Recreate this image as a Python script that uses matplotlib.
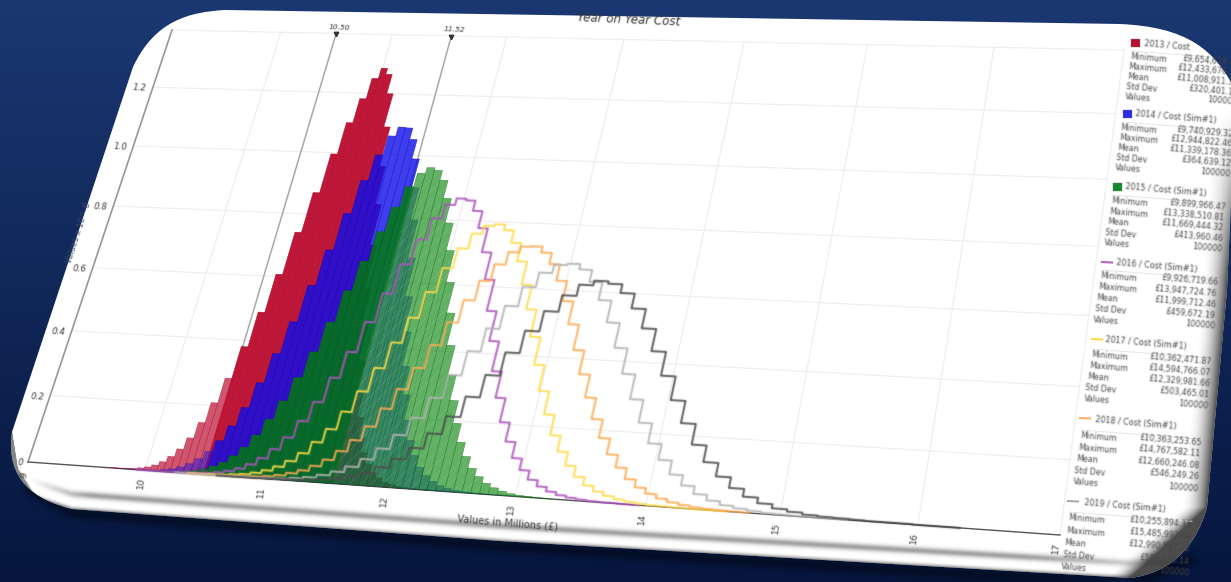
import matplotlib

matplotlib.use("agg")
import matplotlib.pyplot as plt
import matplotlib.transforms as mtransforms
from matplotlib.patches import PathPatch, Rectangle
from matplotlib.path import Path
import numpy as np

# Histogram ranges in GBP millions (min, max of each simulation), 50 bins each
ranges = {
    "2013": (9.654, 12.433),
    "2014": (9.741, 12.945),
    "2015": (9.900, 13.339),
    "2016": (9.927, 13.948),
    "2017": (10.362, 14.595),
    "2018": (10.363, 14.768),
    "2019": (10.256, 15.486),
    "2020": (10.600, 16.300),
}

red_vals = [0, .001, .001, .002, .003, .006, .010, .017, .028, .045, .068, .102, .149, .209, .284, .381, .488,
            .607, .741, .869, .996, 1.100, 1.181, 1.250, 1.285, 1.265, 1.200, 1.090, .962, .839, .711, .578,
            .461, .358, .265, .194, .135, .093, .062, .039, .025, .015, .009, .005, .003, .002, .001, .001, 0, 0]
blue_vals = [0, 0, 0, .001, .002, .003, .006, .010, .017, .028, .044, .067, .100, .145, .201, .276, .366,
             .464, .578, .690, .807, .914, .998, 1.061, 1.091, 1.089, 1.052, .989, .897, .795, .677, .558,
             .452, .350, .267, .194, .137, .095, .063, .041, .026, .015, .009, .005, .003, .002, .001, .001, 0, 0]
green_vals = [0, 0, .001, .001, .002, .003, .006, .010, .016, .026, .039, .059, .086, .123, .171, .227, .299,
              .377, .469, .567, .660, .754, .833, .900, .944, .963, .955, .924, .867, .790, .705, .608,
              .515, .419, .332, .259, .194, .141, .102, .070, .048, .031, .020, .012, .007, .004, .003, .001, .001, 0]
purple_vals = [0, 0, 0, 0, .001, .002, .003, .005, .009, .015, .024, .038, .058, .086, .122, .172, .230,
               .304, .383, .475, .564, .656, .735, .803, .847, .868, .863, .831, .778, .704, .621, .527,
               .438, .350, .274, .205, .151, .106, .074, .049, .032, .020, .012, .007, .004, .002, .001, .001, 0, 0]
yellow_vals = [.001, .001, .002, .003, .006, .009, .015, .024, .037, .055, .080, .114, .154, .207, .269, .340,
               .418, .495, .575, .650, .713, .760, .786, .792, .775, .737, .681, .611, .538, .457, .376, .301,
               .235, .177, .133, .095, .066, .044, .029, .019, .012, .007, .004, .002, .002, .001, .001, 0, 0, 0]
orange_vals = [0, 0, .001, .001, .002, .003, .005, .008, .013, .021, .031, .046, .066, .093, .127, .169, .223,
               .282, .347, .417, .487, .556, .617, .669, .708, .727, .729, .711, .677, .628, .568, .500,
               .425, .356, .290, .230, .178, .134, .099, .069, .048, .033, .022, .014, .009, .005, .003, .002, .001, .001]
gray_vals = [0, 0, 0, 0, 0, .001, .001, .002, .004, .008, .013, .022, .034, .051, .075, .108, .150,
             .202, .263, .332, .405, .475, .545, .605, .650, .676, .681, .665, .629, .576, .511, .438,
             .364, .293, .228, .172, .128, .090, .062, .041, .026, .016, .010, .006, .003, .002, .001, .001, 0, 0]
black_vals = [0, 0, 0, .001, .002, .003, .005, .009, .014, .023, .036, .055, .082, .116, .160, .212, .272,
              .338, .407, .474, .535, .585, .619, .633, .626, .600, .556, .499, .434, .365, .297, .234,
              .176, .130, .093, .064, .043, .028, .017, .011, .006, .004, .003, .002, .001, .001, .001, 0, 0, 0]

delimiters = [10.50, 11.52]
x_ticks = [9, 10, 11, 12, 13, 14, 15, 16, 17]
y_ticks = [0.2, 0.4, 0.6, 0.8, 1.0, 1.2]

legend_titles = ["2013 / Cost", "2014 / Cost (Sim#1)", "2015 / Cost (Sim#1)", "2016 / Cost (Sim#1)",
                 "2017 / Cost (Sim#1)", "2018 / Cost (Sim#1)", "2019 / Cost (Sim#1)"]
row_names = ["Minimum", "Maximum", "Mean", "Std Dev", "Values"]
legend_stats = [
    ["£9,654,618.41", "£12,433,676.20", "£11,008,911.35", "£320,401.18", "100000"],
    ["£9,740,929.32", "£12,944,822.46", "£11,339,178.36", "£364,639.12", "100000"],
    ["£9,899,966.47", "£13,338,510.81", "£11,669,444.32", "£413,960.46", "100000"],
    ["£9,926,719.66", "£13,947,724.76", "£11,999,712.46", "£459,672.19", "100000"],
    ["£10,362,471.87", "£14,594,766.07", "£12,329,981.66", "£503,465.01", "100000"],
    ["£10,363,253.65", "£14,767,582.11", "£12,660,246.08", "£546,249.26", "100000"],
    ["£10,255,894.31", "£15,485,993.40", "£12,990,517.22", "£585,330.14", "100000"],
]

# pixel layout of the tilted sheet
CORNERS = [(28, 462), (1060, 535), (172, 30), (1124, 50)]
X_RANGE = (9.0, 17.0)
Y_RANGE = (0.0, 1.4)


def homography(corners):
    """Solve the unit square -> picture quad mapping."""
    (x0, y0), (x1, y1), (x2, y2), (x3, y3) = corners
    sx, sy = x0 - x1 + x3 - x2, y0 - y1 + y3 - y2
    a = np.array([[x1 - x3, x2 - x3], [y1 - y3, y2 - y3]], dtype=float)
    g, h = np.linalg.solve(a, [sx, sy])
    return np.array([
        [x1 * (1 + g) - x0, x2 * (1 + h) - x0, x0],
        [y1 * (1 + g) - y0, y2 * (1 + h) - y0, y0],
        [g, h, 1.0],
    ])


H = homography(CORNERS)


class SheetTransform(mtransforms.Transform):
    """Chart units to picture pixels, through the perspective of the sheet."""
    input_dims = 2
    output_dims = 2
    is_separable = False
    has_inverse = False

    def transform_non_affine(self, values):
        values = np.asarray(values, dtype=float)
        u = (values[:, 0] - X_RANGE[0]) / (X_RANGE[1] - X_RANGE[0])
        v = (values[:, 1] - Y_RANGE[0]) / (Y_RANGE[1] - Y_RANGE[0])
        w = H[2, 0] * u + H[2, 1] * v + H[2, 2]
        px = (H[0, 0] * u + H[0, 1] * v + H[0, 2]) / w
        py = (H[1, 0] * u + H[1, 1] * v + H[1, 2]) / w
        return np.column_stack([px, py])


sheet = SheetTransform()


def proj(x, y):
    return sheet.transform_non_affine(np.array([[x, y]]))[0]


def soft(sigma):
    """agg filter: gaussian blur, the reference is an upscaled screenshot."""
    r = int(np.ceil(sigma * 3))
    k = np.exp(-0.5 * (np.arange(-r, r + 1) / sigma) ** 2)
    k /= k.sum()

    def run(img, dpi):
        img = np.pad(img, ((r, r), (r, r), (0, 0)))
        img[..., :3] *= img[..., 3:]
        for axis in (0, 1):
            img = sum(wt * np.roll(img, i - r, axis=axis) for i, wt in enumerate(k))
        img[..., :3] /= np.maximum(img[..., 3:], 1e-4)
        return np.clip(img, 0, 1), -r, -r

    return run


fig = plt.figure(figsize=(12.31, 5.82), dpi=100)
ax = fig.add_axes([0, 0, 1, 1])
ax.set_axis_off()
ax.set_autoscale_on(False)
ax.set_xlim(0, 1231)
ax.set_ylim(582, 0)
chart = sheet + ax.transData

# background
top, bottom = np.array([27, 56, 114]) / 255, np.array([6, 22, 62]) / 255
t = np.linspace(0, 1, 256)[:, None, None]
ax.imshow(top * (1 - t) + bottom * t, extent=(0, 1231, 582, 0), aspect="auto", zorder=0)

# white sheet
verts = [(225, 10), (1120, 24), (1185, 27), (1215, 48), (1236, 92), (1227, 290), (1207, 507),
         (1195, 552), (1165, 574), (1130, 578), (500, 541), (72, 509), (35, 500), (5, 480), (12, 432),
         (133, 67), (155, 20), (190, 12), (225, 10), (225, 10)]
codes = [Path.MOVETO, Path.LINETO, Path.CURVE4, Path.CURVE4, Path.CURVE4, Path.LINETO, Path.LINETO,
         Path.CURVE4, Path.CURVE4, Path.CURVE4, Path.LINETO, Path.LINETO, Path.CURVE4, Path.CURVE4, Path.CURVE4,
         Path.LINETO, Path.CURVE4, Path.CURVE4, Path.CURVE4, Path.CLOSEPOLY]
panel = PathPatch(Path(verts, codes), facecolor="white", edgecolor="none", zorder=2)
ax.add_patch(panel)

# drop shadow on the background, under the bottom edge
shadow, = ax.plot([30, 72, 500, 1130, 1190], [490, 513, 546, 584, 560], color="black", alpha=0.45, lw=7, zorder=1)
shadow.set_agg_filter(soft(3))

# bevel: darkening toward the bottom and right edges of the sheet
gx, gy = np.meshgrid(np.arange(1231) + 0.5, np.arange(582) + 0.5)
d_right = np.interp(gy, [92, 290, 507, 578], [1236, 1227, 1207, 1130]) - gx
d_bottom = np.interp(gx, [12, 18, 35, 72, 500, 1130], [432, 470, 497, 509, 541, 578]) - gy
a_right = 0.8 * np.clip(1 - d_right / 26, 0, 1) ** 2 * np.clip((gy - 110) / 170, 0, 1)
a_edge = 0.55 * np.clip(1 - d_bottom / 5, 0, 1) ** 2
a_band = 0.42 * np.exp(-(((d_bottom - 15) / 3.5) ** 2)) * np.clip((gx - 30) / 60, 0, 1) * np.clip((1230 - gx) / 200, 0, 1)
alpha = 1 - (1 - a_right) * (1 - a_edge) * (1 - a_band)
bevel = np.dstack([np.full_like(alpha, 0.13), np.full_like(alpha, 0.13), np.full_like(alpha, 0.13), alpha])
bevel_img = ax.imshow(bevel, extent=(0, 1231, 582, 0), aspect="auto", zorder=3)
bevel_img.set_clip_path(panel)

# grid, axis frame
grid_kw = dict(color="#efefef", lw=0.9, zorder=4, transform=chart)
for x in x_ticks[1:-1]:
    ax.plot([x, x], Y_RANGE, **grid_kw)
for y in y_ticks:
    ax.plot(X_RANGE, [y, y], **grid_kw)
ax.plot(X_RANGE, [Y_RANGE[1]] * 2, **grid_kw)
ax.plot([X_RANGE[1]] * 2, Y_RANGE, **grid_kw)
ax.plot([X_RANGE[0]] * 2, Y_RANGE, color="#8f8f8f", lw=1.1, zorder=4.1, transform=chart)
ax.plot(X_RANGE, [0, 0], color="#555555", lw=1.0, zorder=4.1, transform=chart)

# delimiters
for d in delimiters:
    ax.plot([d, d], Y_RANGE, color="#a8a8a8", lw=1.1, zorder=4.2, transform=chart)
    px, py = proj(d, Y_RANGE[1])
    ax.plot([px], [py + 1], marker="v", ms=3.2, color="#333333", zorder=9)
    tx = ax.text(px + 3, py - 6, f"{d:.2f}", fontsize=5.4, style="italic", color="#333333",
                 ha="center", va="center", rotation=-3, zorder=9)
    tx.set_agg_filter(soft(0.5))

# filled histograms: denser between the delimiters, see-through outside
fill_series = [
    ("2013", red_vals, (0.745, 0.05, 0.19), 0.96, 0.70),
    ("2014", blue_vals, (0.05, 0.05, 0.925), 0.80, 0.45),
    ("2015", green_vals, (0.0, 0.50, 0.02), 0.80, 0.62),
]
for i, (key, vals, rgb, band_alpha, tail_alpha) in enumerate(fill_series):
    lo, hi = ranges[key]
    edges = np.linspace(lo, hi, len(vals) + 1)
    centers = (edges[:-1] + edges[1:]) / 2
    inside = (centers >= delimiters[0]) & (centers <= delimiters[1])
    faces = [(*rgb, band_alpha if f else tail_alpha) for f in inside]
    strokes = [(rgb[0] * 0.8, rgb[1] * 0.8, rgb[2] * 0.8, c[3]) for c in faces]
    ax.bar(centers, vals, width=edges[1] - edges[0], color=faces, edgecolor=strokes, linewidth=0.3,
           transform=chart, zorder=5 + i * 0.1)
    if key == "2015":
        # scratchy white streaks of the stretched screenshot on the light green part
        matplotlib.rcParams["hatch.linewidth"] = 0.5
        ax.bar(centers[~inside], np.asarray(vals)[~inside], width=edges[1] - edges[0], facecolor="none",
               edgecolor=(1, 1, 1, 0.12), linewidth=0, hatch="///", transform=chart, zorder=5.25)

# outline histograms
line_series = [
    ("2016", purple_vals, "#ad55bd"),
    ("2017", yellow_vals, "#ffdc4a"),
    ("2018", orange_vals, "#ffab55"),
    ("2019", gray_vals, "#b4b4b4"),
    ("2020", black_vals, "#4d4d4d"),
]
for i, (key, vals, colour) in enumerate(line_series):
    lo, hi = ranges[key]
    edges = np.linspace(lo, hi, len(vals) + 1)
    line, = ax.plot(edges, list(vals) + [0], drawstyle="steps-post", color=colour, lw=1.4, alpha=0.92,
                    transform=chart, zorder=6 + i * 0.1)
    line.set_agg_filter(soft(0.6))

# axis text
text_kw = dict(color="#3a3a3a", ha="center", va="center", zorder=9)
for x in x_ticks:
    px, py = proj(x, 0)
    tx = ax.text(px - 4, py + 13, str(x), fontsize=6.6, rotation=84, **text_kw)
    tx.set_agg_filter(soft(0.5))
for y in y_ticks + [0]:
    px, py = proj(X_RANGE[0], y)
    tx = ax.text(px - 13 if y else px - 8, py + 1, f"{y:.1f}" if y else "0", fontsize=6.2, style="italic",
                 rotation=-3, **text_kw)
    tx.set_agg_filter(soft(0.5))
tx = ax.text(508, 523, "Values in Millions (£)", fontsize=7, rotation=-5, **text_kw)
tx.set_agg_filter(soft(0.5))
tx = ax.text(78, 233, "Values x 10^-6", fontsize=6, rotation=72, color="#3a4a68", ha="center", va="center", zorder=9)
tx.set_agg_filter(soft(0.5))
tx = ax.text(629, 20, "Year on Year Cost", fontsize=8.6, style="italic", rotation=-2.5, color="#333333",
             ha="center", va="center", zorder=9)
tx.set_clip_path(panel)
tx.set_agg_filter(soft(0.5))

# legend blocks: key x/y, title x/y, first row x/y, row step x/y, right edge of values
legend_layout = [
    (1135, 43, 1144, 43, 1130, 57, -1.2, 9.8, 1240),
    (1127, 114, 1135, 114, 1120.5, 128, -1.4, 10.0, 1233),
    (1117, 187, 1125, 187, 1111, 201, -1.8, 10.5, 1226),
    (1107, 262, 1116, 263, 1100, 276, -1.6, 11.0, 1218),
    (1097, 339, 1105, 340, 1091, 355, -1.8, 11.0, 1212),
    (1085, 418, 1095, 420, 1080, 436, -1.8, 11.5, 1202),
    (1073, 501, 1084, 503, 1068, 518, -1.6, 12.2, 1192),
]
legend_keys = ["#b80f2e", "#2a2ae8", "#118a2a", "#b565c5", "#ffd84a", "#ffb060", "#aaaaaa"]
leg_rot = -5
for n, (kx, ky, tx0, ty0, rx, ry, sx, sy, right) in enumerate(legend_layout):
    if n < 3:
        ax.add_patch(Rectangle((kx - 4, ky - 4), 8.5, 8, facecolor=legend_keys[n], edgecolor="#777777", lw=0.3, zorder=9))
    else:
        ax.plot([kx - 5, kx + 5], [ky, ky + 0.5], color=legend_keys[n], lw=1.5, zorder=9)
    items = [ax.text(tx0, ty0, legend_titles[n], fontsize=5.8, color="#444444", ha="left", va="center",
                     rotation=leg_rot, rotation_mode="anchor", zorder=9)]
    rule, = ax.plot([rx + 1, right], [ry - 6, ry - 6 + 0.075 * (right - rx)], color="#e2e2e2", lw=0.6, zorder=8)
    rule.set_clip_path(panel)
    for k, (name, val) in enumerate(zip(row_names, legend_stats[n])):
        items.append(ax.text(rx + k * sx, ry + k * sy, name, fontsize=5.7, color="#444444", ha="left", va="center",
                             rotation=leg_rot, rotation_mode="anchor", zorder=9))
        items.append(ax.text(right + k * sx * 0.5, ry + k * sy + 0.055 * (right - rx), val, fontsize=5.7,
                             color="#444444", ha="right", va="center", rotation=leg_rot,
                             rotation_mode="anchor", zorder=9))
    for it in items:
        it.set_clip_path(panel)
        it.set_agg_filter(soft(0.6))

fig.savefig("out.png", dpi=100)
